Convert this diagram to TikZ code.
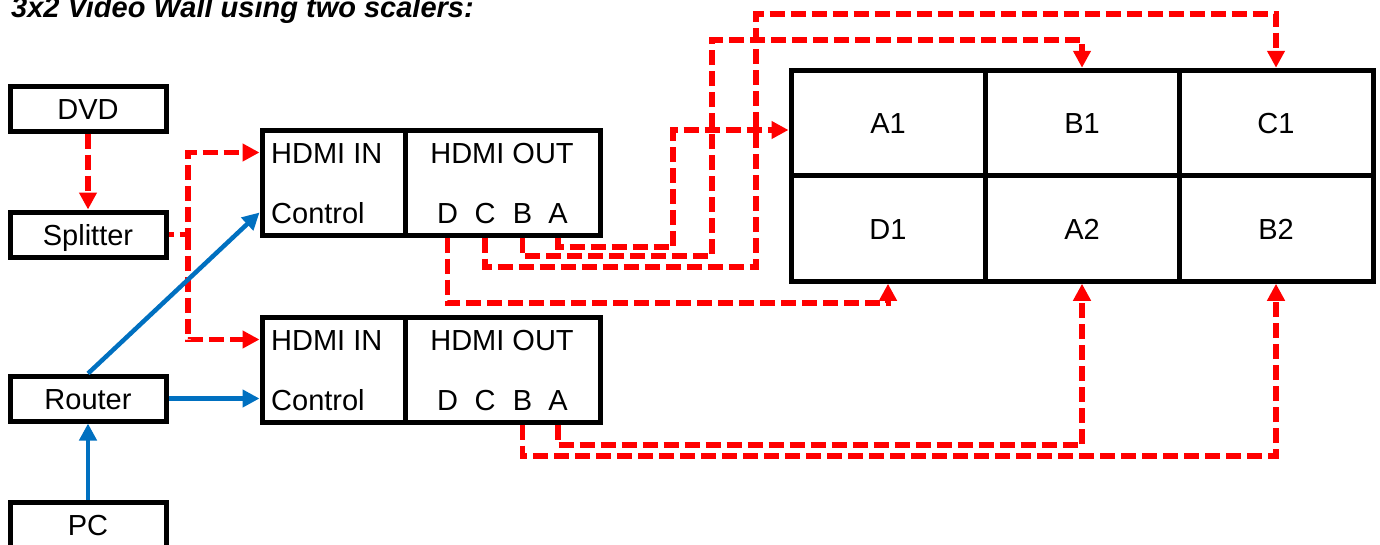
\documentclass[tikz,border=0pt]{standalone}
\usepackage{fontspec}
\setmainfont{Liberation Sans}
\usetikzlibrary{arrows.meta}
\definecolor{sigred}{HTML}{FF0000}
\definecolor{ctlblue}{HTML}{0070C0}
\newcommand\diagfont{\fontsize{29pt}{34pt}\selectfont}
\tikzset{
 lbl/.style={inner sep=0pt,font=\diagfont,text height=21pt,text depth=0pt},
 unit/.style={lbl,draw,line width=5pt},
 device/.style={unit,minimum width=156pt,minimum height=45pt},
 scin/.style={unit,minimum width=143pt,minimum height=105pt},
 scout/.style={unit,minimum width=195pt,minimum height=105pt},
 cell/.style={unit,minimum width=194pt,minimum height=105.5pt},
 sig/.style={draw=sigred,line width=5.5pt,dash pattern=on 15pt off 6pt},
 ctl/.style={draw=ctlblue,line width=4.5pt},
 >={Triangle[length=17pt,width=17pt]}
}
\begin{document}
\begin{tikzpicture}[x=1pt,y=-1pt]
 \useasboundingbox (0,0) rectangle (1380,544);
 \node [lbl,anchor=base west,font=\diagfont\bfseries\itshape] (title) at (11,17) {3x2 Video Wall using two scalers:};
 % sources
 \node [device] (DVD) at (88,108.5) {DVD};
 \node [device] (Splitter) at (88,234.5) {Splitter};
 \node [device] (Router) at (88,398.5) {Router};
 \node [device] (PC) at (88,524.5) {PC};
 % scaler 1
 \node [scin] (s1in) at (333.5,182.5) {};
 \node [scout] (s1out) at (502.5,182.5) {};
 \node [lbl,anchor=base west] (s1hin) at (271,163) {HDMI IN};
 \node [lbl,anchor=base west] (s1ctl) at (271,223) {Control};
 \node [lbl,anchor=base] (s1hout) at (502,163) {HDMI OUT};
 \node [lbl,anchor=base] (s1D) at (447.5,223) {D};
 \node [lbl,anchor=base] (s1C) at (485,223) {C};
 \node [lbl,anchor=base] (s1B) at (522.5,223) {B};
 \node [lbl,anchor=base] (s1A) at (558,223) {A};
 % scaler 2
 \node [scin] (s2in) at (333.5,369.5) {};
 \node [scout] (s2out) at (502.5,369.5) {};
 \node [lbl,anchor=base west] (s2hin) at (271,350) {HDMI IN};
 \node [lbl,anchor=base west] (s2ctl) at (271,410) {Control};
 \node [lbl,anchor=base] (s2hout) at (502,350) {HDMI OUT};
 \node [lbl,anchor=base] (s2D) at (447.5,410) {D};
 \node [lbl,anchor=base] (s2C) at (485,410) {C};
 \node [lbl,anchor=base] (s2B) at (522.5,410) {B};
 \node [lbl,anchor=base] (s2A) at (558,410) {A};
 % video wall
 \node [cell] (A1) at (888,123) {A1};
 \node [cell] (B1) at (1082,123) {B1};
 \node [cell] (C1) at (1276,123) {C1};
 \node [cell] (D1) at (888,228.5) {D1};
 \node [cell] (A2) at (1082,228.5) {A2};
 \node [cell] (B2) at (1276,228.5) {B2};
 % HDMI signals
 \coordinate (split) at (188,234.5);
 \draw [sig,->] (DVD) -- (Splitter);
 \draw [sig,->,dash phase=10pt] (Splitter.east) -- (split) |- (s1in.west |- s1hin);
 \draw [sig,->] (split) |- (s2in.west |- s2hin);
 \draw [sig,->] (s1A |- s1out.south) |- (673,247) |- ([yshift=-7pt]A1.west);
 \draw [sig,->] (s1B |- s1out.south) |- (712,256) |- (B1.north |- 0,40) -- (B1.north);
 \draw [sig,->] (s1C |- s1out.south) |- (756,267) |- (C1.north |- 0,14) -- (C1.north);
 \draw [sig,->] (s1D |- s1out.south) |- (D1.south |- 0,303) -- (D1.south);
 \draw [sig,->] (s2A |- s2out.south) |- (A2.south |- 0,445) -- (A2.south);
 \draw [sig,->] (s2B |- s2out.south) |- (B2.south |- 0,456) -- (B2.south);
 % control
 \draw [ctl,->] (Router.north) -- (s1in.west |- s1ctl);
 \draw [ctl,->] (Router.east) -- (Router.east -| s2in.west);
 \draw [ctl,->] (PC.north) -- (Router.south);
\end{tikzpicture}
\end{document}
